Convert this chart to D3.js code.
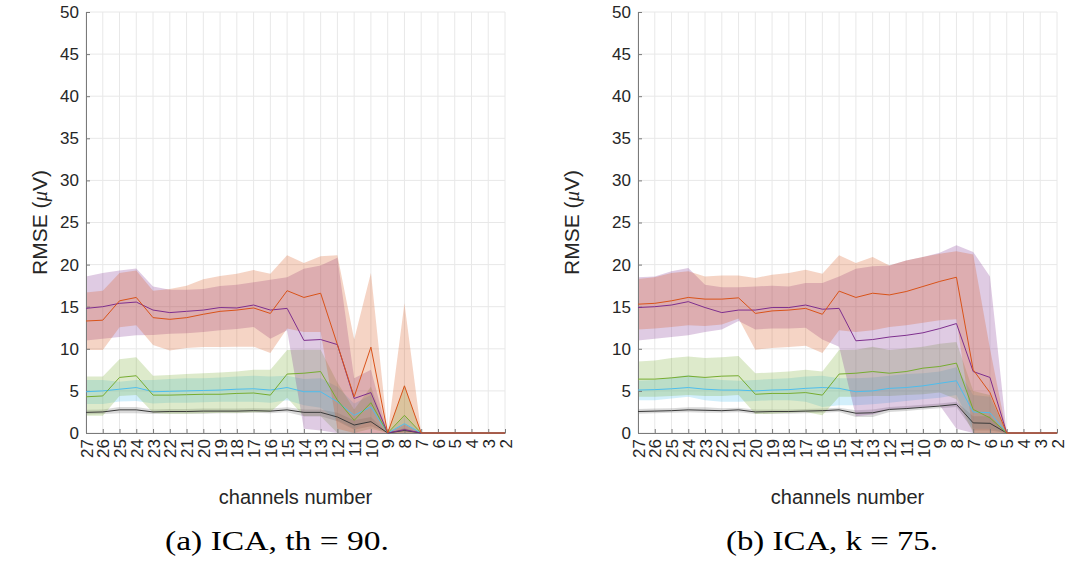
<!DOCTYPE html>
<html>
<head>
<meta charset="utf-8">
<script src="https://cdn.jsdelivr.net/npm/d3@7"></script>
<style>
  body { margin: 0; background: #fff; }
  svg text { font-family: "Liberation Sans", Arial, sans-serif; fill: #262626; }
</style>
</head>
<body>
<div id="chart"></div>
<script>
// x tick labels (channel count, decreasing) and y ticks
let channels = [27,26,25,24,23,22,21,20,19,18,17,16,15,14,13,12,11,10,9,8,7,6,5,4,3,2];
let yTicks = [0,5,10,15,20,25,30,35,40,45,50];

// panel (a) ICA, th = 90
let aOrange   = [13.3,13.4,15.7,16.1,13.7,13.5,13.7,14.1,14.45,14.6,14.85,14.2,16.9,16.1,16.6,10.5,4.3,10.2,0,5.6,0,0,0,0,0,0];
let aOrangeLo = [9.85,9.85,12.55,12.8,10.45,9.8,10.1,10.2,10.2,10.25,10.25,9.5,12.4,12.0,12.0,0.5,0,0,0,0,0,0,0,0,0,0];
let aOrangeHi = [16.7,16.9,19.0,19.3,16.9,17.1,17.5,18.25,18.65,18.9,19.35,18.9,21.1,20.2,21.0,21.1,11.1,19.0,0,15.4,0,0,0,0,0,0];
let aPurple   = [14.8,15.0,15.4,15.55,14.6,14.3,14.45,14.6,14.9,14.85,15.2,14.6,14.8,11.0,11.1,10.5,4.1,4.8,0,0.4,0,0,0,0,0,0];
let aPurpleLo = [11.0,11.2,11.4,11.6,11.65,11.8,11.85,12.0,12.2,12.35,12.6,11.2,12.2,0.5,0.3,0,0,0,0,0,0,0,0,0,0,0];
let aPurpleHi = [18.6,19.0,19.3,19.55,17.4,17.0,17.0,17.1,17.45,17.6,17.9,18.2,18.5,19.5,19.9,20.8,6.5,7.5,0,1.0,0,0,0,0,0,0];
let aGreen    = [4.3,4.4,6.6,6.8,4.5,4.5,4.55,4.6,4.6,4.7,4.75,4.5,7.0,7.1,7.3,3.9,1.5,3.6,0,2.1,0,0,0,0,0,0];
let aGreenLo  = [2.05,2.05,4.4,4.5,2.4,2.3,2.3,2.35,2.4,2.4,2.45,2.5,4.2,2.0,2.0,0,0,0.5,0,0,0,0,0,0,0,0];
let aGreenHi  = [6.7,6.7,8.75,9.0,6.8,6.9,7.0,7.1,7.2,7.3,7.5,7.5,9.85,9.9,9.9,6.0,2.8,5.5,0,5.7,0,0,0,0,0,0];
let aCyan     = [4.9,5.0,5.2,5.4,4.9,4.95,5.0,5.05,5.1,5.2,5.25,5.1,5.4,4.9,4.9,3.7,2.1,3.1,0,1.1,0,0,0,0,0,0];
let aCyanLo   = [3.45,3.45,3.75,3.8,3.5,3.6,3.6,3.65,3.7,3.7,3.7,3.6,3.9,3.3,3.0,1.5,0.5,1.5,0,0.3,0,0,0,0,0,0];
let aCyanHi   = [6.3,6.3,6.1,6.3,6.3,6.4,6.5,6.5,6.6,6.7,6.8,6.7,6.8,6.4,6.5,5.5,3.5,4.5,0,2.0,0,0,0,0,0,0];
let aBlack    = [2.45,2.5,2.75,2.75,2.5,2.55,2.55,2.6,2.6,2.6,2.65,2.6,2.75,2.45,2.45,1.9,0.95,1.35,0,0.3,0,0,0,0,0,0];
let aBlackLo  = [2.2,2.25,2.35,2.35,2.25,2.3,2.3,2.3,2.35,2.35,2.4,2.35,2.45,2.0,2.0,1.4,0.4,0.8,0,0.1,0,0,0,0,0,0];
let aBlackHi  = [2.75,2.8,3.1,3.1,2.8,2.85,2.85,2.9,2.9,2.9,2.95,2.9,3.05,2.8,2.8,2.4,1.5,1.9,0,0.6,0,0,0,0,0,0];

// panel (b) ICA, k = 75
let bOrange   = [15.3,15.4,15.7,16.1,15.9,15.9,16.05,14.2,14.5,14.6,14.8,14.1,16.85,16.1,16.6,16.4,16.8,17.4,18.0,18.5,7.5,4.8,0,0,0,0];
let bOrangeLo = [12.3,12.4,12.6,12.8,12.7,12.9,13.6,9.9,10.1,10.2,10.35,9.5,12.2,12.0,12.2,12.6,12.8,13.1,13.4,13.5,0,0,0,0,0,0];
let bOrangeHi = [18.3,18.5,19.0,19.2,18.6,18.7,18.7,18.4,18.8,19.0,19.4,18.9,21.1,20.2,20.9,19.9,20.5,20.9,21.3,21.6,21.2,10.0,0,0,0,0];
let bPurple   = [14.9,15.0,15.2,15.6,14.9,14.3,14.6,14.6,14.9,14.9,15.2,14.7,14.8,10.95,11.1,11.4,11.6,11.9,12.4,13.0,7.3,6.6,0,0,0,0];
let bPurpleLo = [11.0,11.2,11.4,11.6,12.0,12.3,13.3,12.3,12.4,12.4,12.5,11.1,10.25,2.0,2.2,2.8,2.9,3.1,3.3,0.5,0,0,0,0,0,0];
let bPurpleHi = [18.5,18.6,19.2,19.6,17.6,17.3,17.3,17.4,17.5,17.4,17.8,17.8,18.6,19.5,19.8,19.9,20.5,20.9,21.4,22.3,21.5,18.6,0,0,0,0];
let bGreen    = [6.4,6.4,6.55,6.75,6.6,6.75,6.8,4.6,4.7,4.7,4.8,4.5,7.0,7.1,7.3,7.1,7.3,7.7,7.9,8.3,2.8,1.8,0,0,0,0];
let bGreenLo  = [4.3,4.3,4.4,4.5,4.4,4.4,4.5,2.25,2.3,2.4,2.5,2.1,4.3,4.3,4.4,4.4,4.5,4.6,4.8,4.0,0,0,0,0,0,0];
let bGreenHi  = [8.5,8.6,8.9,9.1,8.9,9.0,9.15,7.1,7.2,7.3,7.5,7.3,9.85,9.9,10.25,9.85,10.05,10.25,10.6,10.8,5.0,4.5,0,0,0,0];
let bCyan     = [5.1,5.15,5.25,5.4,5.2,5.1,5.1,5.0,5.1,5.15,5.3,5.4,5.3,4.9,5.0,5.3,5.4,5.6,5.9,6.2,2.5,2.4,0,0,0,0];
let bCyanLo   = [3.9,3.9,4.1,4.3,3.9,3.7,3.7,3.8,3.9,3.9,3.7,3.1,3.3,3.3,3.4,3.6,3.8,4.0,4.2,4.5,0.5,0.5,0,0,0,0];
let bCyanHi   = [6.2,6.3,6.6,6.9,6.5,6.3,6.2,6.3,6.4,6.5,6.7,6.8,6.5,6.5,6.6,6.8,7.0,7.1,7.3,7.8,4.5,4.3,0,0,0,0];
let bBlack    = [2.55,2.6,2.65,2.75,2.7,2.65,2.75,2.5,2.55,2.55,2.6,2.65,2.75,2.35,2.4,2.8,2.9,3.05,3.2,3.4,1.2,1.15,0,0,0,0];
let bBlackLo  = [2.3,2.35,2.4,2.45,2.4,2.4,2.45,2.25,2.3,2.3,2.35,2.4,2.5,1.9,1.9,2.5,2.6,2.8,2.95,3.1,0.3,0.3,0,0,0,0];
let bBlackHi  = [2.85,2.9,2.95,3.05,3.05,2.95,3.0,2.8,2.8,2.8,2.85,2.9,3.0,2.7,2.8,3.1,3.2,3.35,3.5,3.7,2.0,2.0,0,0,0,0];

let colors = { black: "#3a3a3a", cyan: "#4DBEEE", green: "#77AC30", purple: "#7E2F8E", orange: "#D95319" };
let fillColors = { black: "#808080", cyan: "#4DBEEE", green: "#77AC30", purple: "#7E2F8E", orange: "#D95319" };

let width = 1070, height = 565;
let svg = d3.select("#chart").append("svg")
    .attr("width", width)
    .attr("height", height);

function drawPanel(x0, x1, ylabX, series, caption, capX, capLen) {
  let x = d3.scalePoint().domain(channels).range([x0, x1]);
  let y = d3.scaleLinear().domain([0, 50]).range([433, 12]);
  let g = svg.append("g");

  // grid
  g.selectAll(".gx").data(channels).enter().append("line")
      .attr("x1", d => x(d)).attr("x2", d => x(d))
      .attr("y1", y(0)).attr("y2", y(50))
      .attr("stroke", "#e8e8e8").attr("stroke-width", 1);
  g.selectAll(".gy").data(yTicks).enter().append("line")
      .attr("x1", x0).attr("x2", x1)
      .attr("y1", d => y(d)).attr("y2", d => y(d))
      .attr("stroke", "#e8e8e8").attr("stroke-width", 1);

  let area = d3.area()
      .x((d, i) => x(channels[i]))
      .y0(d => y(d[0]))
      .y1(d => y(d[1]));
  let line = d3.line()
      .x((d, i) => x(channels[i]))
      .y(d => y(d));

  series.forEach(s => {
    g.append("path")
        .datum(s.lo.map((v, i) => [v, s.hi[i]]))
        .attr("d", area)
        .attr("fill", fillColors[s.name])
        .attr("fill-opacity", s.name == "black" ? 0.3 : 0.25)
        .attr("stroke", "none");
  });

  // axes
  let xAxis = g.append("g")
      .attr("transform", `translate(0, ${y(0)})`)
      .call(d3.axisBottom(x).tickSizeInner(-4).tickSizeOuter(0).tickPadding(6));
  xAxis.selectAll("text")
      .attr("transform", "rotate(-90)")
      .attr("x", -6).attr("y", 0).attr("dy", "0.36em")
      .style("text-anchor", "end")
      .style("font-size", "17px");
  let yAxis = g.append("g")
      .attr("transform", `translate(${x0}, 0)`)
      .call(d3.axisLeft(y).tickValues(yTicks).tickSizeInner(-4).tickSizeOuter(0).tickPadding(7));
  yAxis.selectAll("text").style("font-size", "17px");
  g.selectAll(".domain").attr("stroke", "#7a7a7a");
  g.selectAll(".tick line").attr("stroke", "#7a7a7a");

  series.forEach(s => {
    g.append("path")
        .datum(s.mean)
        .attr("d", line)
        .attr("fill", "none")
        .attr("stroke", colors[s.name])
        .attr("stroke-width", 1);
  });

  // labels
  let cx = (x0 + x1) / 2;
  let ylab = g.append("text")
      .attr("transform", `translate(${ylabX}, ${y(25)}) rotate(-90)`)
      .attr("dy", "0.35em")
      .style("text-anchor", "middle")
      .style("font-size", "21px");
  ylab.append("tspan").text("RMSE (");
  ylab.append("tspan").text("μ")
      .style("font-family", "'Liberation Serif', serif").style("font-style", "italic");
  ylab.append("tspan").text("V)");

  g.append("text")
      .attr("x", cx).attr("y", 504)
      .style("text-anchor", "middle")
      .style("font-size", "20px")
      .text("channels number");

  g.append("text")
      .attr("x", capX).attr("y", 550)
      .attr("textLength", capLen)
      .attr("lengthAdjust", "spacingAndGlyphs")
      .style("text-anchor", "middle")
      .style("font-family", "'Liberation Serif', 'DejaVu Serif', serif")
      .style("font-size", "27px")
      .style("fill", "#000")
      .text(caption);
}

drawPanel(86, 505, 40, [
  { name: "black",  mean: aBlack,  lo: aBlackLo,  hi: aBlackHi },
  { name: "cyan",   mean: aCyan,   lo: aCyanLo,   hi: aCyanHi },
  { name: "green",  mean: aGreen,  lo: aGreenLo,  hi: aGreenHi },
  { name: "purple", mean: aPurple, lo: aPurpleLo, hi: aPurpleHi },
  { name: "orange", mean: aOrange, lo: aOrangeLo, hi: aOrangeHi }
], "(a) ICA, th = 90.", 277, 224);

drawPanel(638, 1057, 572, [
  { name: "black",  mean: bBlack,  lo: bBlackLo,  hi: bBlackHi },
  { name: "cyan",   mean: bCyan,   lo: bCyanLo,   hi: bCyanHi },
  { name: "green",  mean: bGreen,  lo: bGreenLo,  hi: bGreenHi },
  { name: "purple", mean: bPurple, lo: bPurpleLo, hi: bPurpleHi },
  { name: "orange", mean: bOrange, lo: bOrangeLo, hi: bOrangeHi }
], "(b) ICA, k = 75.", 832, 212);
</script>
</body>
</html>
